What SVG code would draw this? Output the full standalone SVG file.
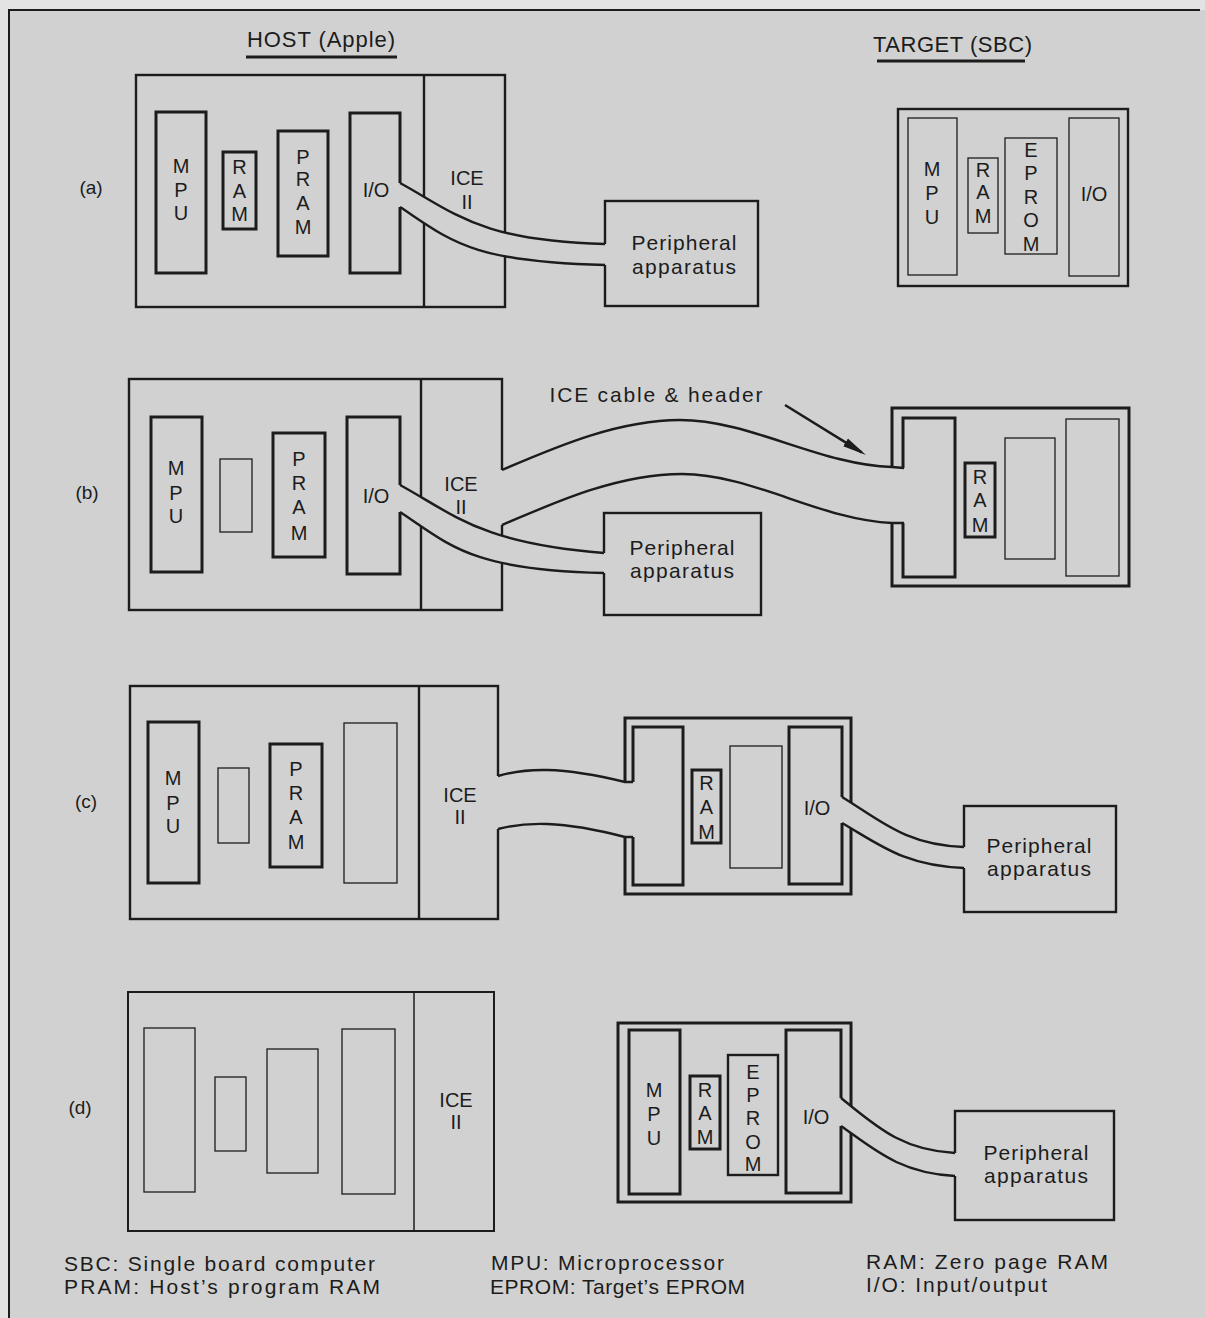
<svg xmlns="http://www.w3.org/2000/svg" width="1205" height="1318" viewBox="0 0 1205 1318">
<defs>
<style>
.b{fill:none;stroke:#1c1c1c;stroke-linejoin:miter}
.w3{stroke-width:3}
.w2{stroke-width:2.4}
.w1{stroke-width:1.3}
.cf{fill:#d1d1d1;stroke:none}
.ce{fill:none;stroke:#1c1c1c;stroke-width:2.4}
text{font-family:"Liberation Sans",Arial,Helvetica,sans-serif;fill:#1c1c1c}
.t{font-size:20px;text-anchor:middle}
.p{font-size:21px;text-anchor:middle}
.lab{font-size:19px;text-anchor:middle}
.cap{font-size:21px;text-anchor:middle}
.lg{font-size:21px}
.hd{font-size:22px}
</style>
<marker id="ah" viewBox="0 0 24 12" refX="19" refY="6" markerWidth="24" markerHeight="12" markerUnits="userSpaceOnUse" orient="auto">
<path d="M0,1.5 L24,6 L0,10.5 Z" fill="#1c1c1c"/>
</marker>
</defs>

<rect x="0" y="0" width="1205" height="1318" fill="#e3e3e3"/>
<rect x="9" y="10" width="1196" height="1308" fill="#d1d1d1"/>
<path d="M9,1318 L9,10 L1200,10" fill="none" stroke="#1c1c1c" stroke-width="2"/>

<g id="headers">
<text class="hd" x="247" y="47" textLength="148" lengthAdjust="spacing">HOST (Apple)</text>
<line x1="246" y1="57" x2="397" y2="57" stroke="#1c1c1c" stroke-width="3"/>
<text class="hd" x="873" y="52" textLength="159" lengthAdjust="spacing">TARGET (SBC)</text>
<line x1="877" y1="61" x2="1025" y2="61" stroke="#1c1c1c" stroke-width="3"/>
</g>

<g id="labels">
<text class="lab" x="91" y="194">(a)</text>
<text class="lab" x="87" y="499">(b)</text>
<text class="lab" x="86" y="808">(c)</text>
<text class="lab" x="80" y="1114">(d)</text>
</g>

<!-- ===== Panel (a) ===== -->
<g id="a-host">
<rect class="b w2" x="136" y="75" width="369" height="232"/>
<line class="b w2" x1="424" y1="75" x2="424" y2="307"/>
<g id="a-host-mpu"><rect class="b w3" x="156" y="112" width="50" height="161"/>
<text class="t" x="181" y="173">M</text><text class="t" x="181" y="197">P</text><text class="t" x="181" y="220">U</text></g>
<g id="a-host-ram"><rect class="b w3" x="223" y="152" width="33" height="77"/>
<text class="t" x="239.5" y="174">R</text><text class="t" x="239.5" y="198">A</text><text class="t" x="239.5" y="221">M</text></g>
<g id="a-host-pram"><rect class="b w3" x="278" y="131" width="50" height="125"/>
<text class="t" x="303" y="164">P</text><text class="t" x="303" y="186">R</text><text class="t" x="303" y="210">A</text><text class="t" x="303" y="234">M</text></g>
<g id="a-host-io"><rect class="b w3" x="350" y="113" width="50" height="160"/>
<text class="t" x="376" y="197">I/O</text></g>
<g id="a-host-ice"><text class="t" x="467" y="185">ICE</text><text class="t" x="467" y="209">II</text></g>
</g>
<g id="a-periph">
<rect class="b w2" x="605" y="201" width="153" height="105"/>
<text class="p" x="684" y="250" textLength="105" lengthAdjust="spacing">Peripheral</text>
<text class="p" x="684" y="274" textLength="104" lengthAdjust="spacing">apparatus</text>
</g>
<g id="a-target">
<rect class="b w2" x="898" y="109" width="230" height="177"/>
<g id="a-target-mpu"><rect class="b w1" x="908" y="118" width="49" height="157"/>
<text class="t" x="932" y="176">M</text><text class="t" x="932" y="200">P</text><text class="t" x="932" y="224">U</text></g>
<g id="a-target-ram"><rect class="b w1" x="968" y="158" width="30" height="75"/>
<text class="t" x="983" y="177">R</text><text class="t" x="983" y="199">A</text><text class="t" x="983" y="223">M</text></g>
<g id="a-target-eprom"><rect class="b w1" x="1005" y="138" width="52" height="116"/>
<text class="t" x="1031" y="157">E</text><text class="t" x="1031" y="180">P</text><text class="t" x="1031" y="204">R</text><text class="t" x="1031" y="227">O</text><text class="t" x="1031" y="251">M</text></g>
<g id="a-target-io"><rect class="b w1" x="1069" y="118" width="50" height="158"/>
<text class="t" x="1094" y="201">I/O</text></g>
</g>

<!-- ===== Panel (b) ===== -->
<g id="b-host">
<rect class="b w2" x="129" y="379" width="373" height="231"/>
<line class="b w2" x1="421" y1="379" x2="421" y2="610"/>
<g id="b-host-mpu"><rect class="b w3" x="151" y="417" width="51" height="155"/>
<text class="t" x="176" y="475">M</text><text class="t" x="176" y="500">P</text><text class="t" x="176" y="523">U</text></g>
<rect id="b-host-ram" class="b w1" x="220" y="459" width="32" height="73"/>
<g id="b-host-pram"><rect class="b w3" x="273" y="433" width="52" height="124"/>
<text class="t" x="299" y="466">P</text><text class="t" x="299" y="490">R</text><text class="t" x="299" y="514">A</text><text class="t" x="299" y="540">M</text></g>
<g id="b-host-io"><rect class="b w3" x="347" y="417" width="53" height="157"/>
<text class="t" x="376" y="503">I/O</text></g>
<g id="b-host-ice"><text class="t" x="461" y="491">ICE</text><text class="t" x="461" y="514">II</text></g>
</g>
<g id="b-periph">
<rect class="b w2" x="604" y="513" width="157" height="102"/>
<text class="p" x="682" y="555" textLength="105" lengthAdjust="spacing">Peripheral</text>
<text class="p" x="682" y="578" textLength="104" lengthAdjust="spacing">apparatus</text>
</g>
<g id="b-target">
<rect class="b w3" x="892" y="408" width="237" height="178"/>
<rect id="b-target-header" class="b w3" x="903" y="418" width="52" height="159"/>
<g id="b-target-ram"><rect class="b w3" x="965" y="463" width="30" height="74"/>
<text class="t" x="980" y="484">R</text><text class="t" x="980" y="507">A</text><text class="t" x="980" y="532">M</text></g>
<rect id="b-target-eprom" class="b w1" x="1005" y="438" width="50" height="121"/>
<rect id="b-target-io" class="b w1" x="1066" y="419" width="53" height="157"/>
</g>
<g id="b-caption">
<text class="cap" x="656" y="402" textLength="213" lengthAdjust="spacing">ICE cable &amp; header</text>
</g>

<!-- ===== Panel (c) ===== -->
<g id="c-host">
<rect class="b w2" x="130" y="686" width="368" height="233"/>
<line class="b w2" x1="419" y1="686" x2="419" y2="919"/>
<g id="c-host-mpu"><rect class="b w3" x="148" y="722" width="51" height="161"/>
<text class="t" x="173" y="785">M</text><text class="t" x="173" y="810">P</text><text class="t" x="173" y="833">U</text></g>
<rect id="c-host-ram" class="b w1" x="218" y="768" width="31" height="75"/>
<g id="c-host-pram"><rect class="b w3" x="270" y="744" width="52" height="123"/>
<text class="t" x="296" y="776">P</text><text class="t" x="296" y="800">R</text><text class="t" x="296" y="824">A</text><text class="t" x="296" y="849">M</text></g>
<rect id="c-host-io" class="b w1" x="344" y="723" width="53" height="160"/>
<g id="c-host-ice"><text class="t" x="460" y="802">ICE</text><text class="t" x="460" y="824">II</text></g>
</g>
<g id="c-target">
<rect class="b w3" x="625" y="718" width="226" height="176"/>
<rect id="c-target-header" class="b w3" x="633" y="727" width="50" height="158"/>
<g id="c-target-ram"><rect class="b w3" x="692" y="770" width="29" height="73"/>
<text class="t" x="706.5" y="790">R</text><text class="t" x="706.5" y="814">A</text><text class="t" x="706.5" y="839">M</text></g>
<rect id="c-target-eprom" class="b w1" x="730" y="746" width="52" height="122"/>
<g id="c-target-io"><rect class="b w3" x="789" y="727" width="53" height="157"/>
<text class="t" x="817" y="815">I/O</text></g>
</g>
<g id="c-periph">
<rect class="b w2" x="964" y="806" width="152" height="106"/>
<text class="p" x="1039" y="853" textLength="105" lengthAdjust="spacing">Peripheral</text>
<text class="p" x="1039" y="876" textLength="104" lengthAdjust="spacing">apparatus</text>
</g>

<!-- ===== Panel (d) ===== -->
<g id="d-host">
<rect class="b" stroke-width="2" x="128" y="992" width="366" height="239"/>
<line class="b" stroke-width="1.5" x1="414" y1="992" x2="414" y2="1231"/>
<rect id="d-host-mpu" class="b w1" x="144" y="1028" width="51" height="164"/>
<rect id="d-host-ram" class="b w1" x="215" y="1077" width="31" height="74"/>
<rect id="d-host-pram" class="b w1" x="267" y="1049" width="51" height="124"/>
<rect id="d-host-io" class="b w1" x="342" y="1029" width="53" height="165"/>
<g id="d-host-ice"><text class="t" x="456" y="1107">ICE</text><text class="t" x="456" y="1129">II</text></g>
</g>
<g id="d-target">
<rect class="b w3" x="618" y="1023" width="233" height="179"/>
<g id="d-target-mpu"><rect class="b w3" x="629" y="1030" width="51" height="164"/>
<text class="t" x="654" y="1097">M</text><text class="t" x="654" y="1121">P</text><text class="t" x="654" y="1145">U</text></g>
<g id="d-target-ram"><rect class="b w3" x="690" y="1076" width="30" height="73"/>
<text class="t" x="705" y="1097">R</text><text class="t" x="705" y="1120">A</text><text class="t" x="705" y="1144">M</text></g>
<g id="d-target-eprom"><rect class="b" stroke-width="2.4" x="728" y="1055" width="50" height="120"/>
<text class="t" x="753" y="1079">E</text><text class="t" x="753" y="1102">P</text><text class="t" x="753" y="1125">R</text><text class="t" x="753" y="1149">O</text><text class="t" x="753" y="1171">M</text></g>
<g id="d-target-io"><rect class="b w3" x="786" y="1030" width="55" height="163"/>
<text class="t" x="816" y="1124">I/O</text></g>
</g>
<g id="d-periph">
<rect class="b w2" x="955" y="1111" width="159" height="109"/>
<text class="p" x="1036" y="1160" textLength="105" lengthAdjust="spacing">Peripheral</text>
<text class="p" x="1036" y="1183" textLength="104" lengthAdjust="spacing">apparatus</text>
</g>

<!-- ===== Connectors ===== -->
<g id="connectors">
<g id="cable-a">
<path class="cf" d="M397,183 L400,183 C455,213 480,241 605,244 L608,244 L608,265 L605,265 C470,262 450,240 400,207 L397,207 Z"/>
<path class="ce" d="M400,183 C455,213 480,241 605,244"/>
<path class="ce" d="M400,207 C450,240 470,262 605,265"/>
</g>
<g id="cable-b-ice">
<path class="cf" d="M499,470 L502,470 C560,445 620,420 680,420 C750,420 820,465 892,467 L906,468 L906,523 L892,523 C820,520 752,474 682,474 C620,474 560,500 502,525 L499,525 Z"/>
<path class="ce" d="M502,470 C560,445 620,420 680,420 C750,420 820,465 892,467 L904,468"/>
<path class="ce" d="M502,525 C560,500 620,474 682,474 C752,474 820,520 892,523 L904,523"/>
</g>
<g id="cable-b-periph">
<path class="cf" d="M397,485 L400,485 C455,515 480,543 604,553 L607,553 L607,573 L604,573 C470,570 450,545 400,512 L397,512 Z"/>
<path class="ce" d="M400,485 C455,515 480,543 604,553"/>
<path class="ce" d="M400,512 C450,545 470,570 604,573"/>
</g>
<g id="cable-c-ice">
<path class="cf" d="M495,776 L498,776 C525,768 560,766 625,782 L635,782 L635,837 L625,837 C560,820 525,822 498,829 L495,829 Z"/>
<path class="ce" d="M498,776 C525,768 560,766 625,782 L633,782"/>
<path class="ce" d="M498,829 C525,822 560,820 625,837 L633,837"/>
</g>
<g id="cable-c-periph">
<path class="cf" d="M839,797 L842,797 C880,820 905,845 964,847 L967,847 L967,868 L964,868 C905,866 880,845 842,823 L839,823 Z"/>
<path class="ce" d="M842,797 C880,820 905,845 964,847"/>
<path class="ce" d="M842,823 C880,845 905,866 964,868"/>
</g>
<g id="cable-d-periph">
<path class="cf" d="M838,1098 L841,1098 C875,1125 900,1150 955,1153 L958,1153 L958,1176 L955,1176 C900,1173 875,1150 841,1126 L838,1126 Z"/>
<path class="ce" d="M841,1098 C875,1125 900,1150 955,1153"/>
<path class="ce" d="M841,1126 C875,1150 900,1173 955,1176"/>
</g>
<line id="arrow-ice" x1="785" y1="405" x2="861.7" y2="452.4" stroke="#1c1c1c" stroke-width="2.6" marker-end="url(#ah)"/>
</g>

<g id="legend">
<text class="lg" x="64" y="1271" textLength="311" lengthAdjust="spacing">SBC: Single board computer</text>
<text class="lg" x="64" y="1294" textLength="316" lengthAdjust="spacing">PRAM: Host’s program RAM</text>
<text class="lg" x="491" y="1270" textLength="233" lengthAdjust="spacing">MPU: Microprocessor</text>
<text class="lg" x="490" y="1294" textLength="255" lengthAdjust="spacing">EPROM: Target’s EPROM</text>
<text class="lg" x="866" y="1269" textLength="242" lengthAdjust="spacing">RAM: Zero page RAM</text>
<text class="lg" x="866" y="1292" textLength="181" lengthAdjust="spacing">I/O: Input/output</text>
</g>
</svg>
